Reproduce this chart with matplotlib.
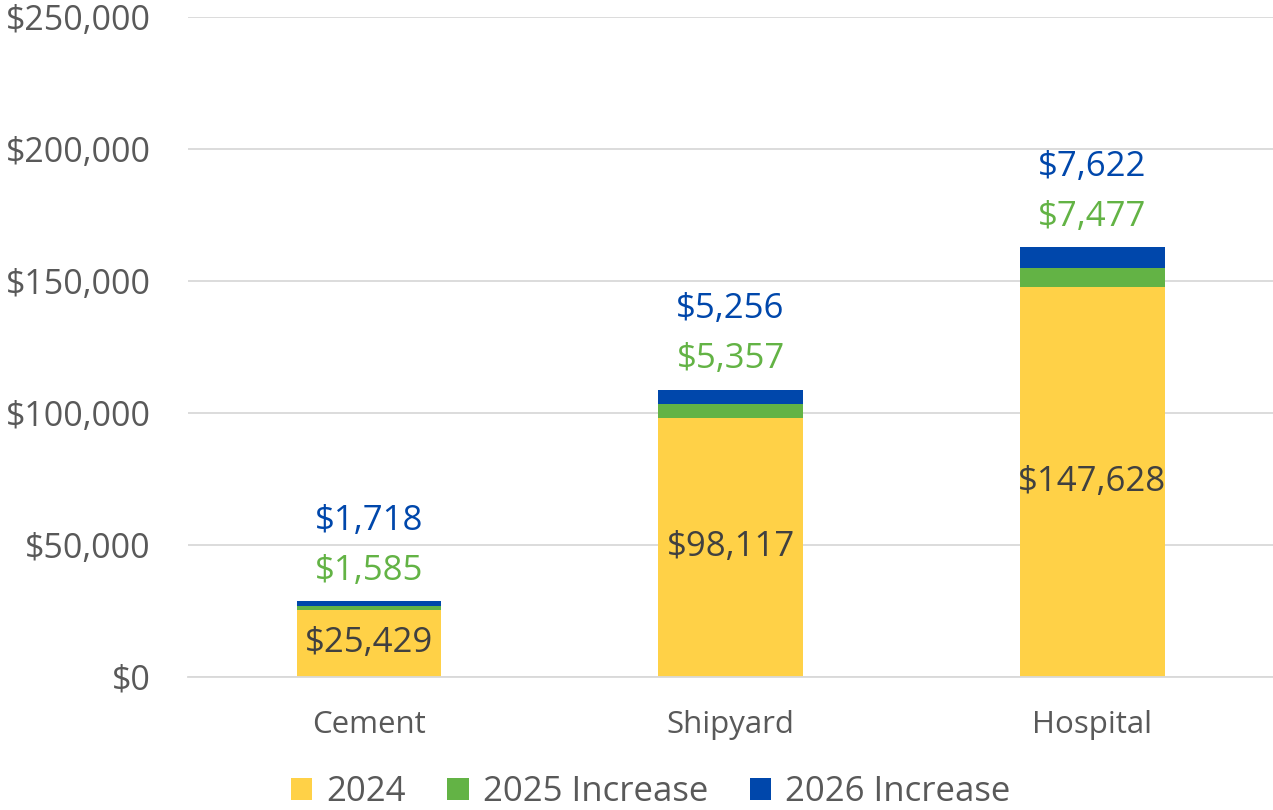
"""Stacked cost bars by facility: 2024 base plus 2025 / 2026 increases."""
import matplotlib
matplotlib.use("Agg")
import matplotlib.pyplot as plt
from matplotlib.ticker import FuncFormatter
import numpy as np

plt.rcParams["font.family"] = ["Open Sans", "DejaVu Sans"]

categories = ["Cement", "Shipyard", "Hospital"]
base_2024 = [25429, 98117, 147628]
inc_2025 = [1585, 5357, 7477]
inc_2026 = [1718, 5256, 7622]
y_ticks = [0, 50000, 100000, 150000, 200000, 250000]

YELLOW = "#FFD147"
GREEN = "#63B345"
BLUE = "#0047AB"
GRAY = "#595959"

fig = plt.figure(figsize=(12.73, 8.10), dpi=100)
ax = fig.add_axes([0.1477, 0.1642, 0.8523, 0.8148])

x = np.arange(len(categories))
b0 = np.array(base_2024)
b1 = b0 + np.array(inc_2025)
w = 0.4
ax.bar(x, base_2024, w, color=YELLOW, label="2024", zorder=2)
ax.bar(x, inc_2025, w, bottom=b0, color=GREEN, label="2025 Increase", zorder=2)
ax.bar(x, inc_2026, w, bottom=b1, color=BLUE, label="2026 Increase", zorder=2)

fmt = lambda v: f"${v:,.0f}"
for i in range(len(categories)):
    top = b1[i] + inc_2026[i]
    ax.text(x[i], base_2024[i] / 2, fmt(base_2024[i]), ha="center", va="center",
            fontsize=25, color="#404040", zorder=3)
    ax.annotate(fmt(inc_2025[i]), (x[i], top), xytext=(0, 22),
                textcoords="offset points", ha="center", va="center",
                fontsize=25, color=GREEN)
    ax.annotate(fmt(inc_2026[i]), (x[i], top), xytext=(0, 58),
                textcoords="offset points", ha="center", va="center",
                fontsize=25, color=BLUE)

ax.set_xlim(-0.5, len(categories) - 0.5)
ax.set_ylim(0, 250000)
ax.set_yticks(y_ticks)
ax.yaxis.set_major_formatter(FuncFormatter(lambda v, _: fmt(v)))
ax.set_xticks(x, categories)
ax.tick_params(axis="y", length=0, labelsize=24.5, labelcolor=GRAY, pad=27)
ax.tick_params(axis="x", length=0, labelsize=22.5, labelcolor=GRAY, pad=24)
ax.grid(axis="y", color="#D9D9D9", lw=1.3, zorder=0)
for s in ax.spines.values():
    s.set_visible(False)
ax.spines["bottom"].set_visible(True)
ax.spines["bottom"].set_color("#D9D9D9")
ax.spines["bottom"].set_linewidth(1.3)

fig.legend(loc="center", bbox_to_anchor=(0.511, 0.022), ncol=3, frameon=False,
           fontsize=25, labelcolor=GRAY, handlelength=0.62, handleheight=0.62,
           handletextpad=0.4, columnspacing=1.2, borderpad=0)

fig.savefig("out.png", dpi=100)
